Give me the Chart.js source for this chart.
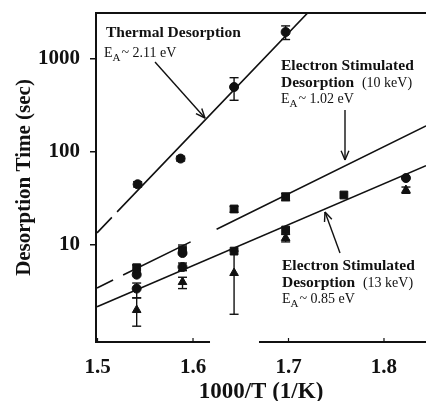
<!DOCTYPE html>
<html>
<head>
<meta charset="utf-8">
<script src="https://cdn.jsdelivr.net/npm/chart.js@4"></script>
<style>
  html, body { margin: 0; padding: 0; background: #fff; }
  canvas { display: block; }
</style>
</head>
<body>
<canvas id="chart" width="426" height="401"></canvas>
<script>
const ink = "#111";
const serif = "'Liberation Serif', 'Times New Roman', serif";

// axis ticks
const xTicks = [1.5, 1.6, 1.7, 1.8];
const yTicks = [10, 100, 1000];

// thermal desorption points (circles)
const thermalX = [1.542, 1.587, 1.643, 1.697];
const thermalY = [45, 85, 500, 1950];
const thermalLo = [42, 80, 360, 1620];
const thermalHi = [48, 90, 630, 2270];

// electron stimulated points, grouped by marker
const squareX = [1.541, 1.589, 1.643, 1.697, 1.643, 1.697, 1.758];
const squareY = [5.7, 8.8, 24.4, 33, 8.6, 14.5, 34.5];
const squareLo = [5.0, 8.0, 22.5, 30, null, null, null];
const squareHi = [6.1, 10, 26, 36, null, null, null];

const circleX = [1.541, 1.589, 1.541, 1.589, 1.823];
const circleY = [4.8, 8.2, 3.4, 5.8, 52.5];
const circleLo = [null, null, 2.7, 5.3, null];
const circleHi = [null, null, 3.9, 6.4, null];

const triangleX = [1.541, 1.589, 1.643, 1.697, 1.823];
const triangleY = [2.0, 4.0, 5.0, 11.9, 39];
const triangleLo = [1.34, 3.4, 1.8, 10.8, 36];
const triangleHi = [2.7, 4.5, 8.6, 13, 42];

// fitted lines (null = break in the printed line)
const thermalFitX = [1.4995, 1.515, 1.518, 1.5205, 1.73];
const thermalFitY = [13.5, 19.8, null, 22.7, 4000];
const esd10FitX = [1.4995, 1.5163, 1.52, 1.5268, 1.5975, 1.61, 1.6247, 1.844];
const esd10FitY = [3.45, 4.2, null, 4.75, 10.8, null, 14.8, 191];
const esd13FitX = [1.4995, 1.844];
const esd13FitY = [2.17, 71.3];

const pts = (xs, ys) => xs.map((v, i) => ({ x: v, y: ys[i] }));

const fitLine = (xs, ys) => ({
  type: "line",
  data: pts(xs, ys),
  borderColor: ink,
  borderWidth: 1.6,
  pointRadius: 0,
  spanGaps: false,
  fill: false,
});

const marker = (xs, ys, style, r) => ({
  type: "scatter",
  data: pts(xs, ys),
  pointStyle: style,
  pointRadius: r,
  backgroundColor: ink,
  borderColor: ink,
  borderWidth: 1,
});

const errorSets = [
  { x: thermalX, lo: thermalLo, hi: thermalHi },
  { x: squareX, lo: squareLo, hi: squareHi },
  { x: circleX, lo: circleLo, hi: circleHi },
  { x: triangleX, lo: triangleLo, hi: triangleHi },
];

// annotation layout (pixels)
const labels = [
  { t: "Thermal Desorption", x: 106, y: 37 },
  { t: "Electron Stimulated", x: 281, y: 70 },
  { t: "Desorption", x: 281, y: 87, tail: "(10 keV)" },
  { t: "Electron Stimulated", x: 282, y: 270 },
  { t: "Desorption", x: 282, y: 287, tail: "(13 keV)" },
];
const energies = [
  { v: "2.11 eV", x: 104, y: 57 },
  { v: "1.02 eV", x: 281, y: 103 },
  { v: "0.85 eV", x: 282, y: 303 },
];
const arrows = [
  [155, 62, 205, 118],
  [345, 110, 345, 160],
  [340, 253, 325, 212],
];

function seg(ctx, x1, y1, x2, y2) {
  ctx.beginPath();
  ctx.moveTo(x1, y1);
  ctx.lineTo(x2, y2);
  ctx.stroke();
}

const extras = {
  id: "extras",
  afterDatasetsDraw(chart) {
    const { ctx, chartArea: a, scales: { x, y } } = chart;
    ctx.save();
    ctx.strokeStyle = ink;
    ctx.fillStyle = ink;

    // frame: top line and bottom axis (printed with a break)
    ctx.lineWidth = 2;
    seg(ctx, a.left, a.top, a.right, a.top);
    seg(ctx, a.left - 1, a.bottom, x.getPixelForValue(1.6178), a.bottom);
    seg(ctx, x.getPixelForValue(1.6691), a.bottom, a.right, a.bottom);
    ctx.lineWidth = 1.2;
    xTicks.forEach((v) => {
      const px = x.getPixelForValue(v);
      seg(ctx, px, a.bottom, px, a.bottom - 4);
    });

    // error bars
    ctx.lineWidth = 1.4;
    errorSets.forEach((s) => {
      s.x.forEach((xv, i) => {
        if (s.lo[i] == null) return;
        const px = x.getPixelForValue(xv);
        const p1 = y.getPixelForValue(s.lo[i]);
        const p2 = y.getPixelForValue(s.hi[i]);
        seg(ctx, px, p1, px, p2);
        seg(ctx, px - 4.5, p1, px + 4.5, p1);
        seg(ctx, px - 4.5, p2, px + 4.5, p2);
      });
    });

    // labels
    ctx.textBaseline = "alphabetic";
    ctx.textAlign = "left";
    labels.forEach((l) => {
      ctx.font = "bold 15.5px " + serif;
      ctx.fillText(l.t, l.x, l.y);
      if (l.tail) {
        const w = ctx.measureText(l.t + "  ").width;
        ctx.font = "14px " + serif;
        ctx.fillText(l.tail, l.x + w, l.y);
      }
    });
    energies.forEach((e) => {
      ctx.font = "14px " + serif;
      ctx.fillText("E", e.x, e.y);
      let cx = e.x + ctx.measureText("E").width;
      ctx.font = "11px " + serif;
      ctx.fillText("A", cx, e.y + 4);
      cx += ctx.measureText("A").width + 1;
      ctx.font = "14px " + serif;
      ctx.fillText("~ " + e.v, cx, e.y);
    });

    // arrows
    ctx.lineWidth = 1.4;
    arrows.forEach(([x1, y1, x2, y2]) => {
      seg(ctx, x1, y1, x2, y2);
      const ang = Math.atan2(y2 - y1, x2 - x1);
      [0.4, -0.4].forEach((d) => {
        seg(ctx, x2, y2, x2 - 10 * Math.cos(ang + d), y2 - 10 * Math.sin(ang + d));
      });
    });
    ctx.restore();
  },
};

new Chart(document.getElementById("chart"), {
  type: "scatter",
  data: {
    datasets: [
      fitLine(thermalFitX, thermalFitY),
      fitLine(esd10FitX, esd10FitY),
      fitLine(esd13FitX, esd13FitY),
      marker(thermalX, thermalY, "circle", 4.5),
      marker(squareX, squareY, "rect", 5.5),
      marker(circleX, circleY, "circle", 4.5),
      marker(triangleX, triangleY, "triangle", 5),
    ],
  },
  options: {
    responsive: false,
    animation: false,
    devicePixelRatio: 1,
    layout: { autoPadding: false, padding: { left: 0, top: 13, right: 0, bottom: 0 } },
    plugins: { legend: { display: false }, tooltip: { enabled: false } },
    scales: {
      x: {
        type: "linear",
        min: 1.4984,
        max: 1.844,
        afterFit: (s) => { s.height = 59; s.paddingLeft = 0; s.paddingRight = 0; },
        afterBuildTicks: (s) => { s.ticks = xTicks.map((v) => ({ value: v })); },
        ticks: {
          color: ink,
          padding: 13,
          font: { family: serif, size: 21, weight: "bold" },
          callback: (v) => v.toFixed(1),
        },
        grid: { display: false, drawTicks: false },
        border: { display: false },
        title: {
          display: true,
          text: "1000/T (1/K)",
          color: ink,
          padding: 0,
          font: { family: serif, size: 23, weight: "bold", lineHeight: 0.8 },
        },
      },
      y: {
        type: "logarithmic",
        min: 0.906,
        max: 3124,
        afterFit: (s) => { s.width = 96; s.paddingTop = 0; s.paddingBottom = 0; },
        afterBuildTicks: (s) => { s.ticks = yTicks.map((v) => ({ value: v })); },
        ticks: {
          color: ink,
          padding: 10,
          font: { family: serif, size: 21, weight: "bold" },
          callback: (v) => String(v),
        },
        grid: { drawOnChartArea: false, drawTicks: true, tickLength: 6, color: ink, lineWidth: 1.5 },
        border: { display: true, color: ink, width: 2 },
        title: {
          display: true,
          text: "Desorption Time (sec)",
          color: ink,
          padding: { top: 12, bottom: 0 },
          font: { family: serif, size: 21, weight: "bold" },
        },
      },
    },
  },
  plugins: [extras],
});
</script>
</body>
</html>
